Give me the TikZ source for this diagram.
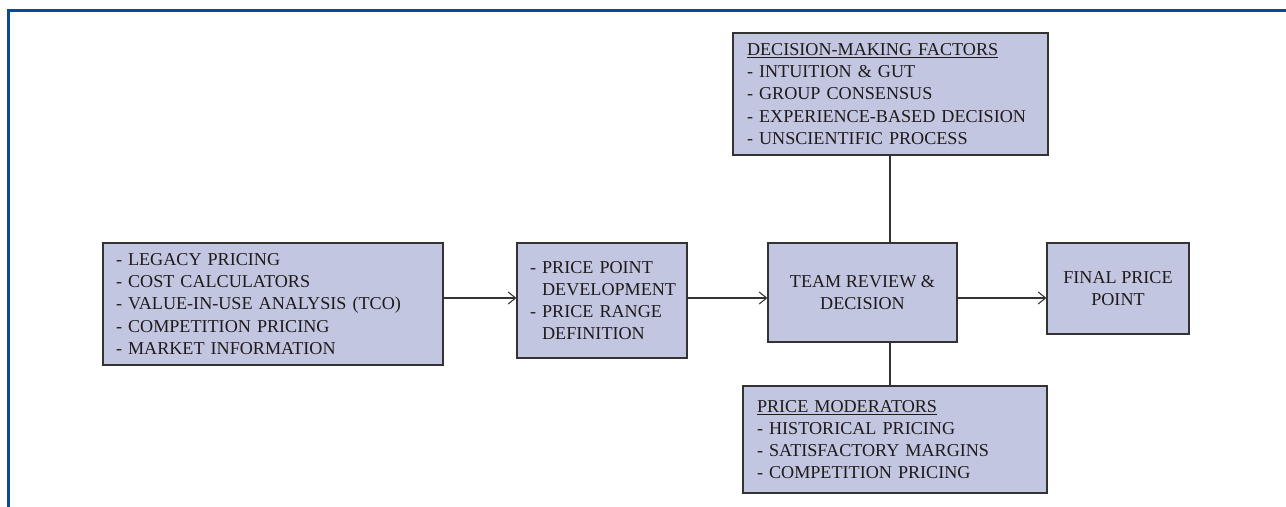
\documentclass[tikz,border=0pt]{standalone}
\usepackage{fontspec}
\setmainfont{Liberation Serif}
\usetikzlibrary{arrows.meta,calc}
\definecolor{framblue}{RGB}{11,74,143}
\definecolor{boxfill}{RGB}{194,198,224}
\definecolor{boxline}{RGB}{51,51,51}
\definecolor{inktext}{RGB}{30,27,28}

\begin{document}
\begin{tikzpicture}[x=0.75pt,y=-0.75pt,
  pbox/.style={draw=boxline,fill=boxfill,line width=0.9pt,text=inktext,
    font=\fontsize{13.6}{16.7}\selectfont,inner xsep=9.75pt,inner ysep=0pt},
  conn/.style={draw=boxline,line width=0.9pt},
  arr/.style={conn,-{Straight Barb[length=5.5pt,width=9pt,line width=0.8pt]}}]
  \useasboundingbox (0,0) rectangle (1286,507);
  % outer frame, open at the bottom and right
  \draw[framblue,line width=2.4pt] (8.5,507) -- (8.5,10.5) -- (1286,10.5);

  \node[pbox,text width=235.5pt,minimum height=91.5pt,align=left] (src) at (273,304)
    {- LEGACY PRICING\\- COST CALCULATORS\\- VALUE-IN-USE ANALYSIS (TCO)\\- COMPETITION PRICING\\- MARKET INFORMATION};
  \node[pbox,text width=108pt,minimum height=86.25pt,align=left] (ppoint) at (602,300.5)
    {- PRICE POINT\\\phantom{- }DEVELOPMENT\\- PRICE RANGE\\\phantom{- }DEFINITION};
  \node[pbox,minimum width=141.75pt,minimum height=74.25pt,align=center] (team) at (862.5,292.5)
    {TEAM REVIEW \&\\DECISION};
  \node[pbox,minimum width=106.5pt,minimum height=68.25pt,align=center] (final) at (1118,288.5)
    {FINAL PRICE\\POINT};
  \node[pbox,text width=215.25pt,inner xsep=10.5pt,minimum height=91.5pt,align=left] (factors) at (890.5,94)
    {\underline{DECISION-MAKING FACTORS}\\- INTUITION \& GUT\\- GROUP CONSENSUS\\- EXPERIENCE-BASED DECISION\\- UNSCIENTIFIC PROCESS};
  \node[pbox,text width=207pt,inner xsep=10.5pt,minimum height=80.25pt,align=left] (moder) at (895,439.5)
    {\underline{PRICE MODERATORS}\\- HISTORICAL PRICING\\- SATISFACTORY MARGINS\\- COMPETITION PRICING};

  \coordinate (row) at (0,298);
  \coordinate (stem) at (890,0);
  \draw[arr] (src.east |- row) -- (ppoint.west |- row);
  \draw[arr] (ppoint.east |- row) -- (team.west |- row);
  \draw[arr] (team.east |- row) -- (final.west |- row);
  \draw[conn] (factors.south -| stem) -- (team.north -| stem);
  \draw[conn] (team.south -| stem) -- (moder.north -| stem);
\end{tikzpicture}
\end{document}
